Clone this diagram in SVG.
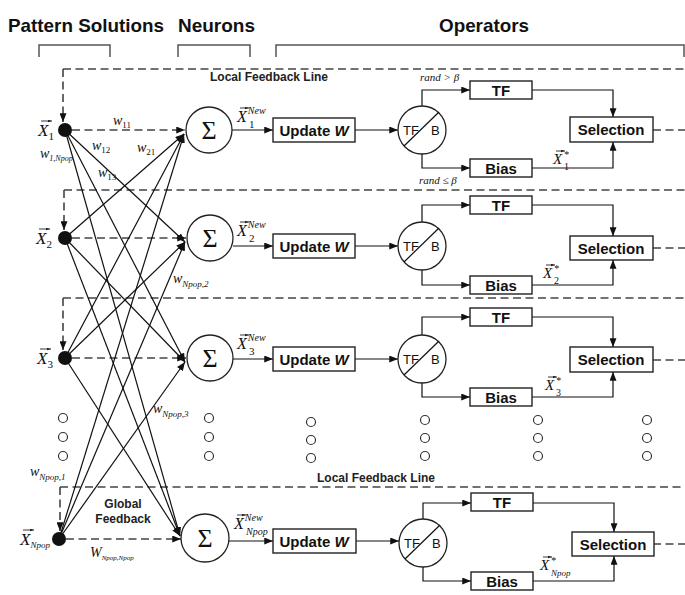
<svg xmlns="http://www.w3.org/2000/svg" width="685" height="595" viewBox="0 0 685 595">
<defs>
<marker id="ah" viewBox="0 0 10 8" refX="10" refY="4" markerWidth="9" markerHeight="7" orient="auto" markerUnits="userSpaceOnUse"><path d="M0,0 L10,4 L0,8 z" fill="#111"/></marker>
<marker id="vh" viewBox="0 0 6 4" refX="6" refY="2" markerWidth="4" markerHeight="3" orient="auto" markerUnits="userSpaceOnUse"><path d="M0,0 L6,2 L0,4 z" fill="#222"/></marker>
<style>
.hd{font-family:"Liberation Sans",Arial,sans-serif;font-weight:bold;font-size:19px;fill:#111}
.lb{font-family:"Liberation Sans",Arial,sans-serif;font-weight:bold;font-size:12px;fill:#222}
.bx{font-family:"Liberation Sans",Arial,sans-serif;font-weight:bold;font-size:15px;fill:#111}
.tb{font-family:"Liberation Sans",Arial,sans-serif;font-size:13px;fill:#111}
.m{font-family:"Liberation Serif","Times New Roman",serif;font-style:italic;fill:#111}
.sg{font-family:"Liberation Serif","Times New Roman",serif;font-size:26px;fill:#111}
.br{fill:none;stroke:#555;stroke-width:1.5}
.dl{fill:none;stroke:#444;stroke-width:1.6;stroke-dasharray:8 4.5}
.da{fill:none;stroke:#444;stroke-width:1.6;stroke-dasharray:8 4.5;marker-end:url(#ah)}
.sl{fill:none;stroke:#111;stroke-width:1.2;marker-end:url(#ah)}
.ln{fill:none;stroke:#111;stroke-width:1.2}
.vec{fill:none;stroke:#222;stroke-width:0.9;marker-end:url(#vh)}
.box{fill:#fff;stroke:#222;stroke-width:1.4}
.cir{fill:#fff;stroke:#222;stroke-width:1.3}
.dot{fill:none;stroke:#333;stroke-width:1.2}
</style>
</defs>

<g id="headers">
<text class="hd" x="8" y="32" textLength="156" lengthAdjust="spacingAndGlyphs">Pattern Solutions</text>
<text class="hd" x="178" y="32" textLength="77" lengthAdjust="spacingAndGlyphs">Neurons</text>
<text class="hd" x="439" y="32" textLength="90" lengthAdjust="spacingAndGlyphs">Operators</text>
<path class="br" d="M39,57 V45 H110 V57"/>
<path class="br" d="M178,57 V45 H250 V57"/>
<path class="br" d="M276,57 V45 H684 V57"/>
</g>

<g id="labels-feedback">
<text class="lb" x="210" y="81">Local Feedback Line</text>
<text class="lb" x="317" y="482">Local Feedback Line</text>
<text class="lb" x="123" y="508" text-anchor="middle" font-size="13">Global</text>
<text class="lb" x="123" y="523" text-anchor="middle" font-size="13">Feedback</text>
</g>

<g id="connectors">
<path class="dl" d="M63,69 H685"/>
<path class="da" d="M63,69 V122"/>
<path class="dl" d="M64,190 H685"/>
<path class="da" d="M64,190 V230"/>
<path class="dl" d="M63,298 H685"/>
<path class="da" d="M63,298 V350"/>
<path class="dl" d="M60,487 H685"/>
<path class="da" d="M60,487 V531"/>
<path class="da" d="M72,130 H185"/>
<path class="da" d="M72,238 H186"/>
<path class="da" d="M72,358 H186"/>
<path class="da" d="M66,539 H181"/>
<path class="sl" d="M65,238 L184,134"/>
<path class="sl" d="M65,358 L184,134"/>
<path class="sl" d="M59,539 L184,134"/>
<path class="sl" d="M65,130 L185,242"/>
<path class="sl" d="M65,358 L185,242"/>
<path class="sl" d="M59,539 L185,242"/>
<path class="sl" d="M65,130 L185,362"/>
<path class="sl" d="M65,238 L185,362"/>
<path class="sl" d="M59,539 L185,362"/>
<path class="sl" d="M65,130 L180,536"/>
<path class="sl" d="M65,238 L180,536"/>
<path class="sl" d="M65,358 L180,536"/>
<path class="sl" d="M232,130 H273"/>
<path class="sl" d="M355,130 H398"/>
<path class="sl" d="M422,106 V90 H470"/>
<path class="sl" d="M422,154 V168 H470"/>
<path class="sl" d="M532,90 H613 V117"/>
<path class="sl" d="M532,168 H613 V142"/>
<path class="dl" d="M653,130 H685"/>
<path class="sl" d="M233,246 H273"/>
<path class="sl" d="M355,246 H398"/>
<path class="sl" d="M422,222 V205 H470"/>
<path class="sl" d="M422,270 V285 H470"/>
<path class="sl" d="M532,205 H613 V236"/>
<path class="sl" d="M532,285 H613 V260"/>
<path class="dl" d="M653,248 H685"/>
<path class="sl" d="M233,359 H273"/>
<path class="sl" d="M355,359 H398"/>
<path class="sl" d="M422,335 V317 H470"/>
<path class="sl" d="M422,383 V397 H470"/>
<path class="sl" d="M532,317 H613 V347"/>
<path class="sl" d="M532,397 H613 V372"/>
<path class="dl" d="M653,360 H685"/>
<path class="sl" d="M229,541 H273"/>
<path class="sl" d="M356,541 H399"/>
<path class="sl" d="M423,519 V503 H471"/>
<path class="sl" d="M423,567 V581 H471"/>
<path class="sl" d="M533,503 H614 V532"/>
<path class="sl" d="M533,581 H614 V556"/>
<path class="dl" d="M653,544 H685"/>
</g>

<g id="solutions">
<g id="x1"><circle cx="65" cy="130" r="7" fill="#111"/>
<text class="m" x="38" y="136" font-size="17">X<tspan font-size="11" font-style="normal" dy="4">1</tspan></text><path class="vec" d="M41,121 H52"/></g>
<g id="x2"><circle cx="65" cy="238" r="7" fill="#111"/>
<text class="m" x="36" y="244" font-size="17">X<tspan font-size="11" font-style="normal" dy="4">2</tspan></text><path class="vec" d="M39,229 H50"/></g>
<g id="x3"><circle cx="65" cy="358" r="7" fill="#111"/>
<text class="m" x="37" y="364" font-size="17">X<tspan font-size="11" font-style="normal" dy="4">3</tspan></text><path class="vec" d="M40,349 H51"/></g>
<g id="xnpop"><circle cx="59" cy="539" r="7" fill="#111"/>
<text class="m" x="20" y="545" font-size="17">X<tspan font-size="9" dy="3">Npop</tspan></text><path class="vec" d="M23,530 H34"/></g>
</g>

<g id="weights">
<text class="m" x="113" y="125" font-size="14">w<tspan font-size="9" font-style="normal" dy="3">11</tspan></text>
<text class="m" x="92" y="150" font-size="14">w<tspan font-size="9" font-style="normal" dy="3">12</tspan></text>
<text class="m" x="137" y="152" font-size="14">w<tspan font-size="9" font-style="normal" dy="3">21</tspan></text>
<text class="m" x="40" y="158" font-size="14">w<tspan font-size="8" dy="3">1,Npop</tspan></text>
<text class="m" x="98" y="177" font-size="14">w<tspan font-size="9" font-style="normal" dy="3">13</tspan></text>
<text class="m" x="173" y="283" font-size="14">w<tspan font-size="9" dy="4">Npop,2</tspan></text>
<text class="m" x="153" y="413" font-size="14">w<tspan font-size="9" dy="4">Npop,3</tspan></text>
<text class="m" x="30" y="476" font-size="14">w<tspan font-size="9" dy="4">Npop,1</tspan></text>
<text class="m" x="90" y="557" font-size="14">W<tspan font-size="7" dy="3">Npop,Npop</tspan></text>
</g>

<g id="neurons">
<g id="s1"><circle class="cir" cx="209" cy="130" r="23"/><text class="sg" x="209" y="139" text-anchor="middle">Σ</text>
<text class="m" x="237" y="122" font-size="16">X<tspan font-size="10" dx="1" dy="-8">New</tspan><tspan font-size="11" font-style="normal" x="249" dy="14">1</tspan></text><path class="vec" d="M240,108 H249"/></g>
<g id="s2"><circle class="cir" cx="210" cy="238" r="23"/><text class="sg" x="210" y="247" text-anchor="middle">Σ</text>
<text class="m" x="237" y="236" font-size="16">X<tspan font-size="10" dx="1" dy="-8">New</tspan><tspan font-size="11" font-style="normal" x="249" dy="14">2</tspan></text><path class="vec" d="M240,222 H249"/></g>
<g id="s3"><circle class="cir" cx="210" cy="358" r="23"/><text class="sg" x="210" y="367" text-anchor="middle">Σ</text>
<text class="m" x="237" y="349" font-size="16">X<tspan font-size="10" dx="1" dy="-8">New</tspan><tspan font-size="11" font-style="normal" x="249" dy="14">3</tspan></text><path class="vec" d="M240,335 H249"/></g>
<g id="snpop"><circle class="cir" cx="205" cy="538" r="24"/><text class="sg" x="205" y="547" text-anchor="middle">Σ</text>
<text class="m" x="234" y="529" font-size="16">X<tspan font-size="10" dx="1" dy="-8">New</tspan><tspan font-size="10" x="246" dy="14">Npop</tspan></text><path class="vec" d="M237,515 H246"/></g>
</g>

<g id="row1-ops">
<g id="upd1"><rect class="box" x="273" y="118" width="82" height="24"/><text class="bx" x="314" y="136" text-anchor="middle">Update <tspan font-style="italic">W</tspan></text></g>
<g id="tfb1"><circle class="cir" cx="422" cy="130" r="24"/><path class="ln" d="M404,146 L439,112"/><text class="tb" x="403" y="135">TF</text><text class="tb" x="431" y="135">B</text></g>
<g id="tf1"><rect class="box" x="470" y="81" width="62" height="18"/><text class="bx" x="501" y="96" text-anchor="middle">TF</text></g>
<g id="bias1"><rect class="box" x="470" y="159" width="62" height="18"/><text class="bx" x="501" y="174" text-anchor="middle">Bias</text></g>
<g id="sel1"><rect class="box" x="570" y="117" width="83" height="25"/><text class="bx" x="611" y="135" text-anchor="middle">Selection</text></g>
<text class="m" x="420" y="81" font-size="11">rand &gt; β</text>
<text class="m" x="419" y="184" font-size="11">rand ≤ β</text>
<text class="m" x="553" y="164" font-size="15">X<tspan font-size="10" font-style="normal" dx="2" dy="-6">*</tspan><tspan font-size="10" font-style="normal" x="564" dy="12">1</tspan></text><path class="vec" d="M556,151 H565"/>
</g>

<g id="row2-ops">
<g id="upd2"><rect class="box" x="273" y="234" width="82" height="24"/><text class="bx" x="314" y="252" text-anchor="middle">Update <tspan font-style="italic">W</tspan></text></g>
<g id="tfb2"><circle class="cir" cx="422" cy="246" r="24"/><path class="ln" d="M404,262 L439,228"/><text class="tb" x="403" y="251">TF</text><text class="tb" x="431" y="251">B</text></g>
<g id="tf2"><rect class="box" x="470" y="196" width="62" height="18"/><text class="bx" x="501" y="211" text-anchor="middle">TF</text></g>
<g id="bias2"><rect class="box" x="470" y="276" width="62" height="18"/><text class="bx" x="501" y="291" text-anchor="middle">Bias</text></g>
<g id="sel2"><rect class="box" x="570" y="236" width="83" height="24"/><text class="bx" x="611" y="254" text-anchor="middle">Selection</text></g>
<text class="m" x="543" y="278" font-size="15">X<tspan font-size="10" font-style="normal" dx="2" dy="-6">*</tspan><tspan font-size="10" font-style="normal" x="554" dy="12">2</tspan></text><path class="vec" d="M546,265 H555"/>
</g>

<g id="row3-ops">
<g id="upd3"><rect class="box" x="273" y="347" width="82" height="24"/><text class="bx" x="314" y="365" text-anchor="middle">Update <tspan font-style="italic">W</tspan></text></g>
<g id="tfb3"><circle class="cir" cx="422" cy="359" r="24"/><path class="ln" d="M404,375 L439,341"/><text class="tb" x="403" y="364">TF</text><text class="tb" x="431" y="364">B</text></g>
<g id="tf3"><rect class="box" x="470" y="308" width="62" height="18"/><text class="bx" x="501" y="323" text-anchor="middle">TF</text></g>
<g id="bias3"><rect class="box" x="470" y="388" width="62" height="18"/><text class="bx" x="501" y="403" text-anchor="middle">Bias</text></g>
<g id="sel3"><rect class="box" x="570" y="347" width="83" height="25"/><text class="bx" x="611" y="365" text-anchor="middle">Selection</text></g>
<text class="m" x="545" y="390" font-size="15">X<tspan font-size="10" font-style="normal" dx="2" dy="-6">*</tspan><tspan font-size="10" font-style="normal" x="556" dy="12">3</tspan></text><path class="vec" d="M548,377 H557"/>
</g>

<g id="rowN-ops">
<g id="updN"><rect class="box" x="273" y="529" width="83" height="24"/><text class="bx" x="314" y="547" text-anchor="middle">Update <tspan font-style="italic">W</tspan></text></g>
<g id="tfbN"><circle class="cir" cx="423" cy="543" r="24"/><path class="ln" d="M405,559 L440,525"/><text class="tb" x="404" y="548">TF</text><text class="tb" x="432" y="548">B</text></g>
<g id="tfN"><rect class="box" x="471" y="493" width="62" height="18"/><text class="bx" x="502" y="508" text-anchor="middle">TF</text></g>
<g id="biasN"><rect class="box" x="471" y="572" width="62" height="18"/><text class="bx" x="502" y="587" text-anchor="middle">Bias</text></g>
<g id="selN"><rect class="box" x="572" y="532" width="82" height="24"/><text class="bx" x="613" y="550" text-anchor="middle">Selection</text></g>
<text class="m" x="540" y="570" font-size="15">X<tspan font-size="10" font-style="normal" dx="2" dy="-6">*</tspan><tspan font-size="9" x="551" dy="12">Npop</tspan></text><path class="vec" d="M543,557 H552"/>
</g>

<g id="ellipsis">
<circle class="dot" cx="63" cy="418" r="4.5"/><circle class="dot" cx="63" cy="437" r="4.5"/><circle class="dot" cx="63" cy="456" r="4.5"/>
<circle class="dot" cx="209" cy="418" r="4.5"/><circle class="dot" cx="209" cy="437" r="4.5"/><circle class="dot" cx="209" cy="456" r="4.5"/>
<circle class="dot" cx="311" cy="422" r="4.5"/><circle class="dot" cx="311" cy="440" r="4.5"/><circle class="dot" cx="311" cy="458" r="4.5"/>
<circle class="dot" cx="425" cy="420" r="4.5"/><circle class="dot" cx="425" cy="438" r="4.5"/><circle class="dot" cx="425" cy="456" r="4.5"/>
<circle class="dot" cx="538" cy="420" r="4.5"/><circle class="dot" cx="538" cy="438" r="4.5"/><circle class="dot" cx="538" cy="456" r="4.5"/>
<circle class="dot" cx="647" cy="420" r="4.5"/><circle class="dot" cx="647" cy="438" r="4.5"/><circle class="dot" cx="647" cy="456" r="4.5"/>
</g>
</svg>
